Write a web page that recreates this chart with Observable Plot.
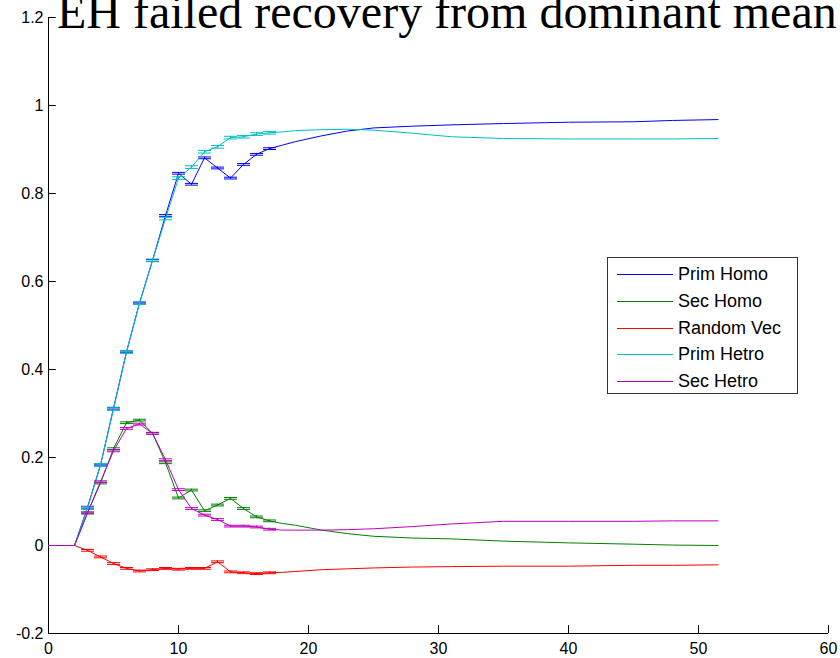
<!DOCTYPE html>
<html>
<head>
<meta charset="utf-8">
<script src="https://cdn.jsdelivr.net/npm/d3@7"></script>
<script src="https://cdn.jsdelivr.net/npm/@observablehq/plot@0.6"></script>
<style>
  html, body { margin: 0; padding: 0; background: #fff; overflow: hidden; width: 840px; height: 658px; }
  #wrap { position: relative; width: 840px; height: 658px; overflow: hidden; }
  #chart { position: absolute; left: 0; top: 0; }
  #title { position: absolute; left: 57px; top: -12px; font-family: "Liberation Serif", "Times New Roman", serif; font-size: 48px; line-height: 1; white-space: nowrap; color: #000; }
  #legend { position: absolute; left: 607px; top: 257px; width: 191px; height: 137px; border: 1px solid #333; background: #fff; box-sizing: border-box; }
  .lg-row { position: absolute; left: 0; height: 20px; width: 189px; }
  .lg-line { position: absolute; left: 9px; width: 56px; top: 10px; height: 1px; }
  .lg-text { position: absolute; left: 70px; top: 0; line-height: 20px; font-family: "Liberation Sans", Arial, sans-serif; font-size: 18px; color: #000; white-space: nowrap; }
</style>
</head>
<body>
<div id="wrap">
  <div id="chart"></div>
  <div id="title">EH failed recovery from dominant mean</div>
  <div id="legend"></div>
</div>
<script>
// ---- data ----
const titleText = "EH failed recovery from dominant mean";
const seriesNames = ["Prim Homo", "Sec Homo", "Random Vec", "Prim Hetro", "Sec Hetro"];
const seriesColors = ["#0000ff", "#008000", "#ff0000", "#00bfbf", "#bf00bf"];

const xValues = [0, 1, 2, 3, 4, 5, 6, 7, 8, 9, 10, 11, 12, 13, 14, 15, 16, 17, 18, 19, 21, 23, 25, 28, 31, 35, 40, 45, 48, 51.5];

const primHomo  = [0, 0, 0, 0.087, 0.183, 0.312, 0.440, 0.551, 0.648, 0.750, 0.846, 0.821, 0.881, 0.858, 0.835, 0.866, 0.889, 0.902, 0.910, 0.918, 0.931, 0.942, 0.949, 0.953, 0.956, 0.959, 0.962, 0.963, 0.966, 0.968];
const secHomo   = [0, 0, 0, 0.074, 0.142, 0.220, 0.279, 0.285, 0.255, 0.188, 0.108, 0.126, 0.079, 0.092, 0.107, 0.084, 0.065, 0.056, 0.050, 0.046, 0.035, 0.027, 0.021, 0.017, 0.015, 0.010, 0.006, 0.003, 0.001, 0.000];
const randomVec = [0, 0, 0, -0.011, -0.026, -0.041, -0.052, -0.058, -0.055, -0.052, -0.054, -0.052, -0.052, -0.037, -0.060, -0.062, -0.064, -0.062, -0.061, -0.059, -0.055, -0.053, -0.051, -0.049, -0.048, -0.047, -0.047, -0.045, -0.045, -0.044];
const primHetro = [0, 0, 0, 0.085, 0.183, 0.310, 0.440, 0.551, 0.648, 0.743, 0.835, 0.860, 0.895, 0.906, 0.927, 0.929, 0.935, 0.938, 0.940, 0.943, 0.945, 0.946, 0.944, 0.937, 0.929, 0.925, 0.924, 0.924, 0.924, 0.925];
const secHetro  = [0, 0, 0, 0.074, 0.145, 0.215, 0.266, 0.276, 0.255, 0.195, 0.127, 0.084, 0.069, 0.059, 0.044, 0.044, 0.042, 0.037, 0.035, 0.035, 0.035, 0.036, 0.038, 0.043, 0.049, 0.055, 0.055, 0.055, 0.056, 0.056];
const errHalf   = [0.002, 0.002, 0.002, 0.003, 0.002]; // small error-bar half-height per series
const capRange  = [3, 17]; // x range where error-bar caps are visible

const xTicks = [0, 10, 20, 30, 40, 50, 60];
const yTicks = [-0.2, 0, 0.2, 0.4, 0.6, 0.8, 1, 1.2];
const yTickLabels = ["-0.2", "0", "0.2", "0.4", "0.6", "0.8", "1", "1.2"];

// ---- build tables ----
const seriesValues = [primHomo, secHomo, randomVec, primHetro, secHetro];
const tables = seriesValues.map((vals, s) => xValues.map((x, i) => ({x, y: vals[i], s})));
const capWidth = 0.5; // half width of error-bar caps in x units
const inCap = d => d.x >= capRange[0] && d.x <= capRange[1];
const capRows = tables.map((rows, s) => rows.filter(inCap).flatMap(d => [
  {x: d.x, y: d.y - errHalf[s]}, {x: d.x, y: d.y + errHalf[s]}
]));
const barRows = tables.map((rows, s) => rows.filter(inCap).map(d => ({x: d.x, y1: d.y - errHalf[s], y2: d.y + errHalf[s]})));

const seriesMarks = [];
tables.forEach((rows, s) => {
  seriesMarks.push(Plot.line(rows, {x: "x", y: "y", stroke: seriesColors[s], strokeWidth: 1}));
  seriesMarks.push(Plot.ruleX(barRows[s], {x: "x", y1: "y1", y2: "y2", stroke: seriesColors[s], strokeWidth: 1}));
  seriesMarks.push(Plot.link(capRows[s], {x1: d => d.x - capWidth, x2: d => d.x + capWidth, y1: "y", y2: "y", stroke: seriesColors[s], strokeWidth: 1}));
});

const chart = Plot.plot({
  width: 840,
  height: 658,
  marginLeft: 48,
  marginRight: 12,
  marginTop: 17,
  marginBottom: 25,
  x: {domain: [0, 60]},
  y: {domain: [-0.2, 1.2]},
  style: {fontFamily: "'Liberation Sans', Arial, sans-serif", fontSize: "16px", color: "#000", background: "#fff", overflow: "visible"},
  marks: [
    Plot.axisX(xTicks, {tickSize: 0, tickPadding: 9, tickFormat: d => String(d), label: null, fontSize: 16}),
    Plot.axisY(yTicks, {tickSize: 0, tickPadding: 5, tickFormat: d => yTickLabels[yTicks.indexOf(d)], label: null, fontSize: 16}),
    // inward ticks
    Plot.ruleX(xTicks.slice(1), {x: d => d, y1: -0.2, y2: -0.2 + 0.018, stroke: "#000"}),
    Plot.ruleY(yTicks.slice(1), {y: d => d, x1: 0, x2: 0.6, stroke: "#000"}),
    // axis lines
    Plot.ruleX([0], {stroke: "#000"}),
    Plot.ruleY([-0.2], {stroke: "#000"}),
    ...seriesMarks
  ]
});
document.getElementById("chart").appendChild(chart);
document.getElementById("title").textContent = titleText;

// legend
const legend = document.getElementById("legend");
seriesNames.forEach((name, i) => {
  const row = document.createElement("div");
  row.className = "lg-row";
  row.style.top = Math.round(6 + i * 26.75) + "px";
  const ln = document.createElement("div");
  ln.className = "lg-line";
  ln.style.backgroundColor = seriesColors[i];
  const tx = document.createElement("div");
  tx.className = "lg-text";
  tx.textContent = name;
  row.appendChild(ln);
  row.appendChild(tx);
  legend.appendChild(row);
});
</script>
</body>
</html>
